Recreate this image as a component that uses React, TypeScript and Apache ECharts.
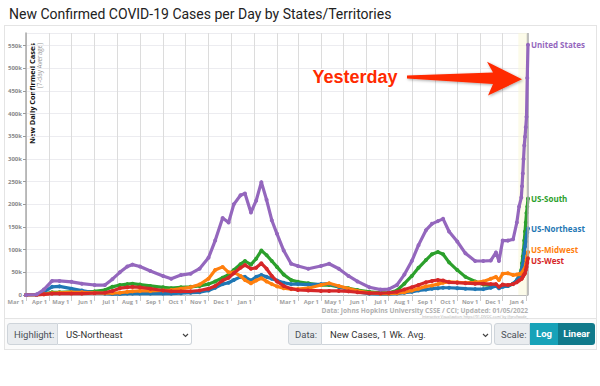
import React, { useEffect, useRef } from 'react';
import * as echarts from 'echarts';

// ---- data (7-day average, thousands of new cases per day) ----
const dates = [
  '2020-03-01','2020-03-15','2020-03-25','2020-04-05','2020-04-15','2020-05-01','2020-05-15','2020-06-01','2020-06-15','2020-06-25',
  '2020-07-05','2020-07-15','2020-07-22','2020-08-01','2020-08-15','2020-09-01','2020-09-12','2020-09-25','2020-10-08','2020-10-20',
  '2020-11-01','2020-11-10','2020-11-20','2020-11-28','2020-12-05','2020-12-14','2020-12-20','2020-12-28','2021-01-04','2021-01-11',
  '2021-01-18','2021-01-25','2021-02-01','2021-02-10','2021-02-20','2021-03-01','2021-03-15','2021-04-01','2021-04-12','2021-04-25',
  '2021-05-08','2021-05-20','2021-06-05','2021-06-20','2021-07-01','2021-07-12','2021-07-22','2021-08-01','2021-08-10','2021-08-20',
  '2021-08-28','2021-09-05','2021-09-12','2021-09-20','2021-10-01','2021-10-12','2021-10-25','2021-11-05','2021-11-15','2021-11-22',
  '2021-11-26','2021-12-01','2021-12-08','2021-12-15','2021-12-20','2021-12-23','2021-12-26','2021-12-27','2021-12-28','2021-12-29',
  '2021-12-30','2021-12-31','2022-01-01','2022-01-02','2022-01-03','2022-01-04',
];

const unitedStates = [
  0, 1, 12, 31, 31, 29, 25, 22, 22, 35,
  50, 63, 67, 63, 53, 42, 36, 44, 47, 58,
  82, 120, 170, 160, 200, 220, 224, 182, 208, 249,
  210, 165, 135, 98, 69, 64, 58, 64, 69, 58,
  42, 30, 17, 12, 13, 22, 45, 75, 110, 143,
  157, 163, 168, 140, 118, 92, 75, 75, 76, 94,
  75, 120, 120, 123, 160, 195, 215, 240, 268, 300,
  330, 349, 370, 393, 479, 552,
];
const usSouth = [
  0, 0.3, 2, 6, 6, 7, 7, 8, 11, 18,
  22, 24, 25, 23, 20, 17, 15, 17, 18, 20,
  24, 30, 38, 45, 55, 68, 75, 67, 80, 98,
  88, 75, 62, 45, 33, 29, 26, 22, 22, 18,
  15, 11, 7, 5, 5, 10, 25, 42, 60, 77,
  90, 95, 90, 72, 55, 40, 30, 23, 21, 22,
  17, 22, 20, 25, 32, 42, 55, 70, 85, 100,
  120, 140, 160, 181, 195, 213,
];
const usNortheast = [
  0, 0.5, 7, 18, 19, 14, 10, 5, 3, 2,
  2, 3, 3, 3, 3, 3, 3, 4, 5, 6,
  10, 16, 24, 27, 33, 40, 40, 32, 40, 44,
  40, 36, 32, 27, 24, 24, 23, 24, 25, 18,
  12, 7, 3, 2, 2, 3, 5, 7, 10, 12,
  14, 15, 16, 16, 15, 14, 13, 13, 16, 20,
  15, 18, 20, 25, 33, 42, 52, 60, 68, 77,
  92, 107, 118, 129, 138, 147,
];
const usMidwest = [
  0, 0.1, 1.5, 4, 5, 6, 6, 5, 4, 4,
  5, 7, 8, 9, 9, 10, 11, 14, 17, 23,
  36, 55, 62, 50, 50, 42, 33, 26, 32, 37,
  30, 24, 19, 15, 13, 13, 15, 22, 26, 20,
  14, 9, 5, 3, 3, 4, 6, 10, 14, 19,
  21, 24, 27, 29, 28, 27, 28, 30, 36, 40,
  33, 47, 48, 44, 45, 46, 47, 49, 51, 54,
  57, 60, 66, 77, 86, 95,
];
const usWest = [
  0, 0.3, 1.5, 3, 3, 3, 3, 4, 5, 9,
  15, 17, 18, 17, 14, 10, 8, 8, 8, 10,
  14, 20, 32, 38, 48, 60, 66, 58, 60, 70,
  58, 42, 30, 20, 14, 11, 10, 9, 9, 9,
  8, 6, 4, 4, 5, 7, 12, 17, 22, 28,
  31, 33, 32, 28, 27, 26, 25, 25, 24, 24,
  18, 23, 22, 24, 28, 32, 35, 37, 40, 43,
  46, 48, 55, 62, 71, 81,
];

const seriesNames = ['US-South', 'US-Northeast', 'US-Midwest', 'US-West', 'United States'];
const seriesValues = [usSouth, usNortheast, usMidwest, usWest, unitedStates];
const seriesColors = ['#2ca02c', '#1f77b4', '#ff7f0e', '#d62728', '#9467bd'];
const endLabelOffsets = [[0, 0], [0, 0], [0, -2.5], [0, 2.5], [0, 0]];

const tickDates = [
  '2020-03-01','2020-04-01','2020-05-01','2020-06-01','2020-07-01','2020-08-01','2020-09-01','2020-10-01','2020-11-01','2020-12-01',
  '2021-01-01','2021-02-01','2021-03-01','2021-04-01','2021-05-01','2021-06-01','2021-07-01','2021-08-01','2021-09-01','2021-10-01',
  '2021-11-01','2021-12-01','2022-01-01',
];
const tickLabels = [
  'Mar 1','Apr 1','May 1','Jun 1','Jul 1','Aug 1','Sep 1','Oct 1','Nov 1','Dec 1',
  'Jan 1','','Mar 1','Apr 1','May 1','Jun 1','Jul 1','Aug 1','Sep 1','Oct 1',
  'Nov 1','Dec 1','Jan 4',
];
const yTicks = [0, 50, 100, 150, 200, 250, 300, 350, 400, 450, 500, 550];

const toTs = (s: string) => {
  const [y, m, d] = s.split('-').map(Number);
  return Date.UTC(y, m - 1, d);
};

function Chart() {
  const ref = useRef<HTMLDivElement>(null);
  useEffect(() => {
    if (!ref.current) return;
    const chart = echarts.init(ref.current, null, { renderer: 'svg' });
    const tickTs = tickDates.map(toTs);
    const axisFont = '"Open Sans", sans-serif';
    const series: any[] = seriesNames.map((name, si) => ({
      name,
      type: 'line',
      data: dates.map((d, i) => [toTs(d), seriesValues[si][i]]),
      showSymbol: true,
      symbol: 'circle',
      symbolSize: 4,
      lineStyle: { width: 3.2, color: seriesColors[si] },
      itemStyle: { color: seriesColors[si] },
      emphasis: { disabled: true },
      z: 2 + si,
      endLabel: {
        show: true,
        formatter: '{a}',
        color: seriesColors[si],
        fontSize: 8,
        fontWeight: 'bold',
        fontFamily: axisFont,
        distance: 3,
        offset: endLabelOffsets[si],
      },
    }));
    series[4].markArea = {
      silent: true,
      itemStyle: { color: 'rgba(250,248,215,0.55)' },
      data: [[{ xAxis: toTs('2021-12-22') }, { xAxis: toTs('2022-01-04') }]],
    };
    series[4].markLine = {
      silent: true,
      symbol: 'none',
      label: { show: false },
      lineStyle: { color: '#aaaaaa', width: 1.5, type: 'solid' },
      data: [{ xAxis: toTs('2022-01-04') }],
    };

    chart.setOption({
      animation: false,
      title: {
        text: 'New Confirmed COVID-19 Cases per Day by States/Territories',
        left: 4,
        top: 2,
        textStyle: { fontSize: 14, fontWeight: 'normal', color: '#222', fontFamily: 'Roboto, sans-serif' },
      },
      grid: { left: 26, right: 72, top: 33, bottom: 91 },
      xAxis: {
        type: 'value',
        min: toTs('2020-03-01'),
        max: toTs('2022-01-04'),
        axisLine: { lineStyle: { color: '#bbb', width: 1 } },
        axisTick: { show: true, length: 6, customValues: tickTs, lineStyle: { color: '#ccc' } },
        axisLabel: {
          customValues: tickTs,
          formatter: (v: number) => {
            const i = tickTs.indexOf(v);
            return i >= 0 ? tickLabels[i] : '';
          },
          align: 'right',
          padding: [0, 2, 0, 0],
          margin: 4,
          fontSize: 5.8,
          fontWeight: 'bold',
          color: '#a0a0a0',
          fontFamily: axisFont,
        },
        splitLine: { show: true, lineStyle: { color: '#dcdcdc', width: 1 } },
      },
      yAxis: {
        type: 'value',
        min: 0,
        max: 578,
        interval: 50,
        axisLine: { show: true, lineStyle: { color: '#aaa', width: 1.5 } },
        axisTick: { show: true, length: 3, lineStyle: { color: '#999' } },
        axisLabel: {
          showMaxLabel: false,
          formatter: (v: number) => (yTicks.includes(v) ? (v === 0 ? '0' : v + 'k') : ''),
          fontSize: 6,
          fontWeight: 'bold',
          color: '#888',
          margin: 4,
          fontFamily: axisFont,
        },
        splitLine: { show: true, lineStyle: { color: '#ececf0', width: 1 } },
      },
      series,
      graphic: [
        {
          type: 'text',
          x: 32,
          y: 43,
          rotation: Math.PI / 2,
          style: {
            text: 'New Daily Confirmed Cases',
            align: 'right',
            verticalAlign: 'middle',
            font: 'bold 7.4px "Open Sans", sans-serif',
            fill: '#111',
          },
        },
        {
          type: 'text',
          x: 39.5,
          y: 43,
          rotation: Math.PI / 2,
          style: {
            text: '(7-day Average)',
            align: 'right',
            verticalAlign: 'middle',
            font: '6.3px "Open Sans", sans-serif',
            fill: '#999',
          },
        },
        {
          type: 'polygon',
          shape: {
            points: [
              [407, 75.5], [493, 72.5], [487, 61.7], [522, 79.3], [488, 95.5], [493, 84], [407, 78.5],
            ],
          },
          style: { fill: '#ff2a00', shadowBlur: 3, shadowColor: 'rgba(0,0,0,0.35)', shadowOffsetX: 1, shadowOffsetY: 1 },
          z: 50,
        },
        {
          type: 'text',
          x: 355,
          y: 77,
          style: {
            text: 'Yesterday',
            align: 'center',
            verticalAlign: 'middle',
            font: 'bold 18px "Liberation Sans", Arial, sans-serif',
            fill: '#ff2a00',
            stroke: '#ffffff',
            lineWidth: 2,
            shadowBlur: 3,
            shadowColor: 'rgba(0,0,0,0.35)',
            shadowOffsetX: 1,
            shadowOffsetY: 1,
          },
          z: 50,
        },
        {
          type: 'text',
          x: 528,
          y: 310,
          style: {
            text: 'Data: Johns Hopkins University CSSE / CCI; Updated: 01/05/2022',
            align: 'right',
            verticalAlign: 'middle',
            font: 'bold 6.6px "Open Sans", sans-serif',
            fill: '#b0b0b0',
          },
        },
        {
          type: 'text',
          x: 528,
          y: 316,
          style: {
            text: 'Interactive Visualization: https://91-DIVOC.com/ by @profwade_',
            align: 'right',
            verticalAlign: 'middle',
            font: '3.6px "Open Sans", sans-serif',
            fill: '#aaa',
          },
        },
      ],
    });
    return () => chart.dispose();
  }, []);
  return <div ref={ref} style={{ position: 'absolute', left: 0, top: 0, width: 600, height: 386 }} />;
}

const Chevron = ({ x }: { x: number }) => (
  <svg width="7" height="5" style={{ position: 'absolute', left: x, top: 9 }}>
    <polyline points="1,1 3.5,3.5 6,1" fill="none" stroke="#444" strokeWidth="1.2" />
  </svg>
);

const labelStyle: React.CSSProperties = {
  position: 'absolute',
  top: 0,
  height: 22,
  lineHeight: '22px',
  background: '#e9ecef',
  border: '1px solid #ced4da',
  color: '#495057',
  fontSize: 9.5,
  boxSizing: 'border-box',
  paddingLeft: 6,
};
const selectStyle: React.CSSProperties = {
  position: 'absolute',
  top: 0,
  height: 22,
  lineHeight: '22px',
  background: '#fff',
  border: '1px solid #ced4da',
  borderLeft: 'none',
  color: '#333',
  fontSize: 9.5,
  boxSizing: 'border-box',
  paddingLeft: 8,
};

export default function App() {
  return (
    <div style={{ position: 'fixed', left: 0, top: 0, width: 600, height: 386, background: '#fff', fontFamily: 'Roboto, sans-serif', overflow: 'hidden' }}>
      <div style={{ position: 'absolute', left: 4, top: 25, width: 593, height: 294, border: '1px solid #e4e4e4', boxSizing: 'border-box', background: '#fff' }} />
      <div style={{ position: 'absolute', left: 4, top: 319, width: 593, height: 31, border: '1px solid #e4e4e4', borderTop: 'none', boxSizing: 'border-box', background: '#fbfbfb' }} />
      <Chart />
      <div style={{ position: 'absolute', left: 7, top: 323, width: 590, height: 23 }}>
        <div style={{ ...labelStyle, left: 0, width: 51, borderRadius: '3px 0 0 3px' }}>Highlight:</div>
        <div style={{ ...selectStyle, left: 51, width: 134, borderRadius: '0 3px 3px 0' }}>
          US-Northeast
          <Chevron x={124} />
        </div>
        <div style={{ ...labelStyle, left: 281, width: 34, borderRadius: '3px 0 0 3px' }}>Data:</div>
        <div style={{ ...selectStyle, left: 315, width: 170, borderRadius: '0 3px 3px 0' }}>
          New Cases, 1 Wk. Avg.
          <Chevron x={160} />
        </div>
        <div style={{ ...labelStyle, left: 487, width: 36, borderRadius: '3px 0 0 3px' }}>Scale:</div>
        <div style={{ position: 'absolute', left: 523, top: 0, width: 28, height: 22, lineHeight: '22px', background: '#17a2b8', color: '#fff', fontSize: 9.5, fontWeight: 'bold', textAlign: 'center' }}>Log</div>
        <div style={{ position: 'absolute', left: 551, top: 0, width: 37, height: 22, lineHeight: '22px', background: '#117a8b', color: '#fff', fontSize: 9.5, fontWeight: 'bold', textAlign: 'center', borderRadius: '0 3px 3px 0' }}>Linear</div>
      </div>
    </div>
  );
}
